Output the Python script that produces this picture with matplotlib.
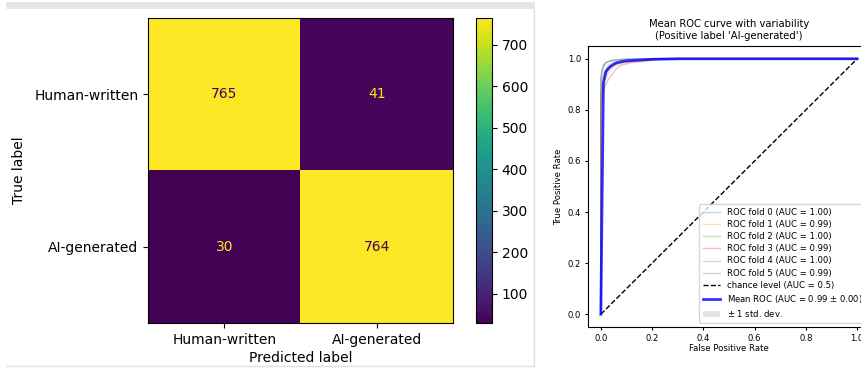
import numpy as np
import matplotlib
matplotlib.use("Agg")
import matplotlib.pyplot as plt
from matplotlib.patches import Rectangle
from matplotlib.lines import Line2D

# confusion matrix data
class_names = ["Human-written", "AI-generated"]
cm = np.array([[765, 41],
               [30, 764]])
cbar_ticks = [100, 200, 300, 400, 500, 600, 700]

# ROC folds (fpr, tpr)
fold_fpr = [
    [0.0, 0.0, 0.005, 0.01, 0.02, 0.04, 0.08, 0.15, 1.0],
    [0.0, 0.0, 0.005, 0.01, 0.02, 0.04, 0.07, 0.12, 0.2, 0.25, 1.0],
    [0.0, 0.0, 0.006, 0.012, 0.025, 0.05, 0.1, 0.18, 1.0],
    [0.0, 0.0, 0.004, 0.01, 0.02, 0.03, 0.045, 0.06, 0.08, 0.12, 0.17, 0.22, 0.3, 1.0],
    [0.0, 0.0, 0.005, 0.01, 0.02, 0.04, 0.07, 0.12, 1.0],
    [0.0, 0.0, 0.006, 0.015, 0.03, 0.05, 0.08, 0.14, 0.2, 0.26, 1.0],
]
fold_tpr = [
    [0.0, 0.93, 0.96, 0.975, 0.985, 0.993, 0.997, 1.0, 1.0],
    [0.0, 0.82, 0.90, 0.93, 0.955, 0.97, 0.98, 0.99, 0.995, 1.0, 1.0],
    [0.0, 0.92, 0.955, 0.975, 0.988, 0.994, 0.998, 1.0, 1.0],
    [0.0, 0.78, 0.86, 0.88, 0.90, 0.92, 0.94, 0.96, 0.975, 0.985, 0.99, 0.997, 1.0, 1.0],
    [0.0, 0.90, 0.95, 0.97, 0.985, 0.992, 0.997, 1.0, 1.0],
    [0.0, 0.85, 0.92, 0.95, 0.965, 0.977, 0.985, 0.992, 0.997, 1.0, 1.0],
]
fold_auc = [1.00, 0.99, 1.00, 0.99, 1.00, 0.99]

mean_fpr = [0.0, 0.0101, 0.0202, 0.0303, 0.0404, 0.0505, 0.0606, 0.0808, 0.101, 0.1515, 0.202, 0.303, 0.5, 1.0]
mean_tpr = [0.0, 0.905, 0.950, 0.963, 0.972, 0.979, 0.984, 0.989, 0.992, 0.995, 0.998, 1.0, 1.0, 1.0]
std_tpr = [0.0, 0.045, 0.025, 0.02, 0.015, 0.011, 0.008, 0.006, 0.004, 0.003, 0.002, 0.0, 0.0, 0.0]
mean_auc = 0.99
std_auc = 0.00

fig = plt.figure(figsize=(8.62, 3.69), dpi=100)

# screenshot frame around the left panel
fig.add_artist(Rectangle((6 / 862, 1 - 9 / 369), 529 / 862, 7 / 369,
                         transform=fig.transFigure, color="#e6e6e6", lw=0))
fig.add_artist(Line2D([534.5 / 862, 534.5 / 862], [1 - 9 / 369, 1 - 366 / 369],
                      transform=fig.transFigure, color="#e0e0e0", lw=1))
fig.add_artist(Line2D([6 / 862, 534.5 / 862], [1 - 366 / 369, 1 - 366 / 369],
                      transform=fig.transFigure, color="#e0e0e0", lw=1))

# CONFUSION MATRIX
ax = fig.add_axes([148 / 862, 1 - 323 / 369, 305 / 862, 305 / 369])
cax = fig.add_axes([476 / 862, 1 - 323 / 369, 16 / 862, 305 / 369])
cmap = plt.get_cmap("viridis")
im = ax.imshow(cm, cmap=cmap, interpolation="nearest", aspect="auto")
thresh = (cm.max() + cm.min()) / 2
for i in range(2):
    for j in range(2):
        c = cmap(0) if cm[i, j] > thresh else cmap(256)
        ax.text(j, i, str(cm[i, j]), ha="center", va="center", color=c, fontsize=10)
ax.set_xticks([0, 1], class_names, fontsize=10)
ax.set_yticks([0, 1], class_names, fontsize=10)
ax.set_xlabel("Predicted label", fontsize=10, labelpad=3)
ax.set_ylabel("True label", fontsize=10, labelpad=6)
cb = fig.colorbar(im, cax=cax, ticks=cbar_ticks)
cb.ax.tick_params(labelsize=10)

# ROC CURVES
ax = fig.add_axes([588 / 862, 1 - 327 / 369, 282 / 862, 281 / 369])
fs = 6.1
for k in range(6):
    ax.plot(fold_fpr[k], fold_tpr[k], lw=1, alpha=0.3,
            label="ROC fold %d (AUC = %.2f)" % (k, fold_auc[k]))
ax.plot([0, 1], [0, 1], "k--", lw=1, label="chance level (AUC = 0.5)")
ax.plot(mean_fpr, mean_tpr, color="b", lw=2, alpha=0.8,
        label=r"Mean ROC (AUC = %0.2f $\pm$ %0.2f)" % (mean_auc, std_auc))
mt = np.array(mean_tpr)
st = np.array(std_tpr)
ax.fill_between(mean_fpr, np.maximum(mt - st, 0), np.minimum(mt + st, 1),
                color="grey", alpha=0.2, lw=0, label=r"$\pm$ 1 std. dev.")
ax.set_xlim(-0.05, 1.05)
ax.set_ylim(-0.05, 1.05)
ax.set_title("Mean ROC curve with variability\n(Positive label 'AI-generated')",
             fontsize=7.2, pad=5)
ax.set_xlabel("False Positive Rate", fontsize=fs, labelpad=0.5)
ax.set_ylabel("True Positive Rate", fontsize=fs, labelpad=3)
ax.tick_params(labelsize=fs, length=2.5, pad=2.5)
ax.legend(loc="lower right", fontsize=fs, labelspacing=0.38)

fig.savefig("out.png", dpi=100)
